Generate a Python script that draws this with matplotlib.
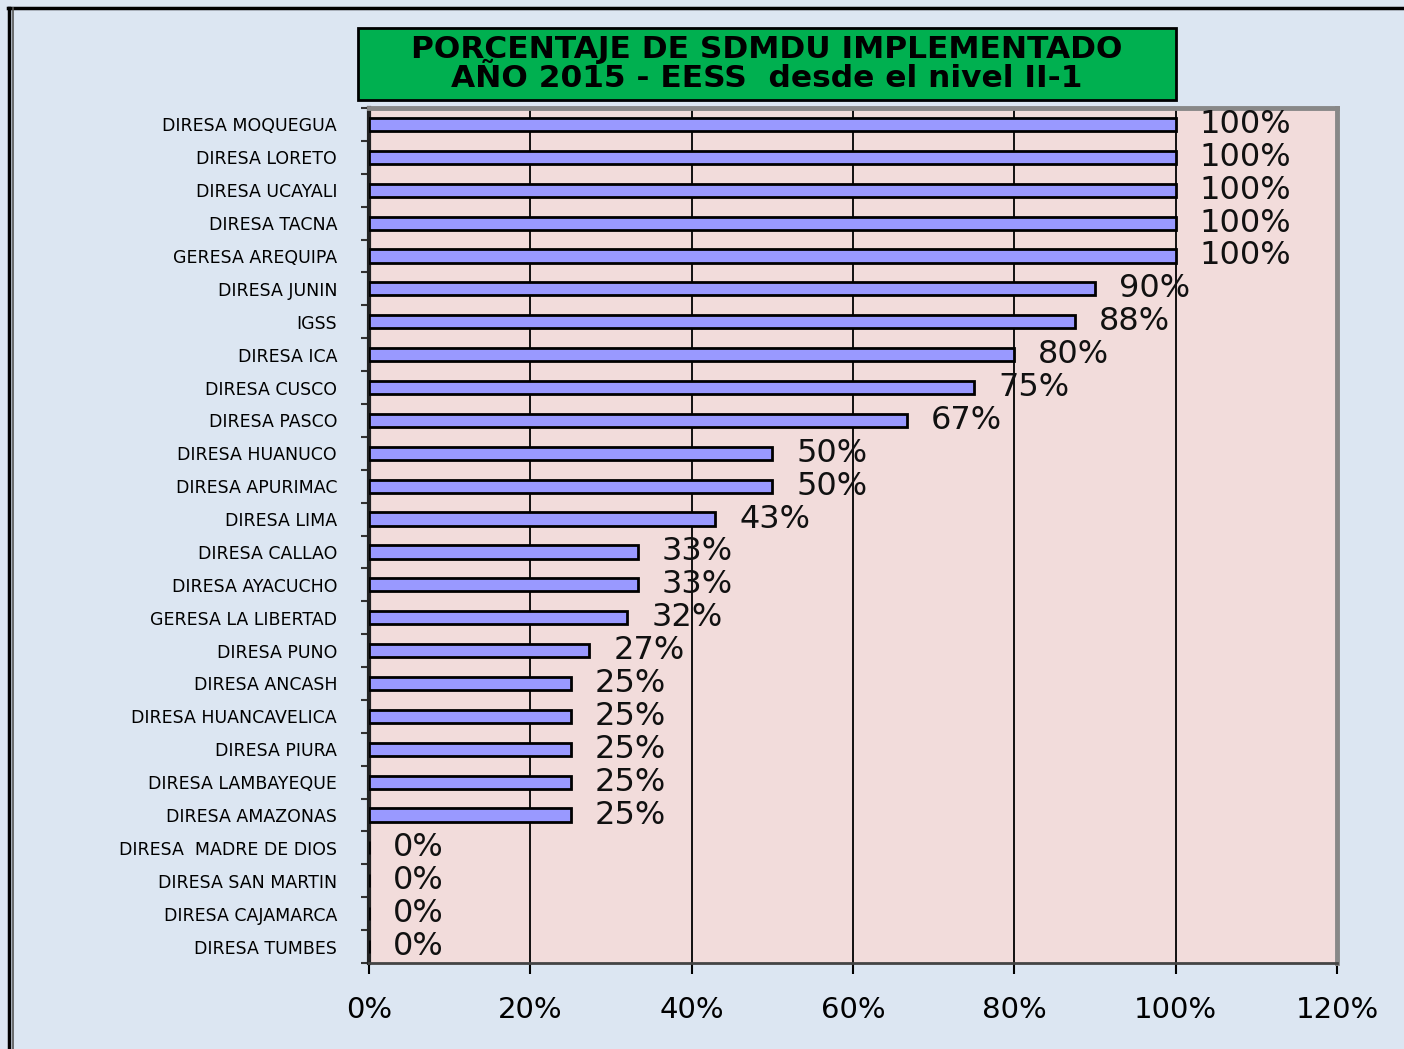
import matplotlib
matplotlib.use("Agg")
import matplotlib.pyplot as plt
from matplotlib.patches import Rectangle
from matplotlib.lines import Line2D

regiones = ["DIRESA MOQUEGUA", "DIRESA LORETO", "DIRESA UCAYALI", "DIRESA TACNA",
            "GERESA AREQUIPA", "DIRESA JUNIN", "IGSS", "DIRESA ICA", "DIRESA CUSCO",
            "DIRESA PASCO", "DIRESA HUANUCO", "DIRESA APURIMAC", "DIRESA LIMA",
            "DIRESA CALLAO", "DIRESA AYACUCHO", "GERESA LA LIBERTAD", "DIRESA PUNO",
            "DIRESA ANCASH", "DIRESA HUANCAVELICA", "DIRESA PIURA", "DIRESA LAMBAYEQUE",
            "DIRESA AMAZONAS", "DIRESA  MADRE DE DIOS", "DIRESA SAN MARTIN",
            "DIRESA CAJAMARCA", "DIRESA TUMBES"]
porcentaje = [100, 100, 100, 100, 100, 90, 87.5, 80, 75, 66.7, 50, 50, 42.9,
              33.3, 33.3, 32, 27.3, 25, 25, 25, 25, 25, 0, 0, 0, 0]
xticks = [0, 20, 40, 60, 80, 100, 120]

fig = plt.figure(figsize=(14.04, 10.49), dpi=100)
fig.patch.set_facecolor("#DCE6F2")

# outer frame (top line and double left line)
fig.add_artist(Line2D([8/1404, 1], [1 - 8/1049, 1 - 8/1049], color="black", lw=2.5,
                      transform=fig.transFigure))
fig.add_artist(Line2D([9/1404, 9/1404], [0, 1 - 8/1049], color="black", lw=2.5,
                      transform=fig.transFigure))
fig.add_artist(Line2D([13/1404, 13/1404], [0, 1 - 8/1049], color="#555555", lw=1.2,
                      transform=fig.transFigure))

ax = fig.add_axes([369/1404, 1 - 963/1049, (1337 - 369)/1404, (963 - 108)/1049])
ax.set_facecolor("#F2DCDB")

y = list(range(len(regiones)))
ax.barh(y, porcentaje, height=0.4, color="#9999FF", edgecolor="black", linewidth=2, zorder=3)

for yi, v in zip(y, porcentaje):
    ax.annotate(f"{v:.0f}%", (v, yi), xytext=(24, 0), textcoords="offset pixels",
                ha="left", va="center", fontsize=23, color="#111111", zorder=5)

ax.set_xlim(0, 120)
ax.set_ylim(len(regiones) - 0.5, -0.5)
ax.set_xticks(xticks)
ax.set_xticklabels([f"{t}%" for t in xticks], fontsize=21)
ax.tick_params(axis="x", length=8, width=1.5, pad=16, colors="black")
ax.set_yticks(y)
ax.set_yticklabels(regiones, fontsize=12.5)
ax.set_yticks([i - 0.5 for i in range(len(regiones) + 1)], minor=True)
ax.tick_params(axis="y", which="major", length=0, pad=23)
ax.tick_params(axis="y", which="minor", length=6, width=1.5, color="#333333")
ax.grid(axis="x", color="black", linewidth=1.3, zorder=1)
ax.set_axisbelow(True)

ax.spines["left"].set_color("#222222")
ax.spines["left"].set_linewidth(3)
ax.spines["bottom"].set_color("#444444")
ax.spines["bottom"].set_linewidth(2)
ax.spines["top"].set_color("#888888")
ax.spines["top"].set_linewidth(3.5)
ax.spines["right"].set_color("#888888")
ax.spines["right"].set_linewidth(3.5)

# title box
fig.add_artist(Rectangle((358/1404, 1 - 100/1049), (1176 - 358)/1404, 72/1049,
                         transform=fig.transFigure, facecolor="#00B050",
                         edgecolor="black", linewidth=2))
fig.text(767/1404, 1 - 64/1049, "PORCENTAJE DE SDMDU IMPLEMENTADO\nAÑO 2015 - EESS  desde el nivel II-1",
         ha="center", va="center", fontsize=22.5, fontweight="bold", color="black",
         linespacing=0.98)

fig.savefig("out.png", dpi=100, facecolor=fig.get_facecolor())
